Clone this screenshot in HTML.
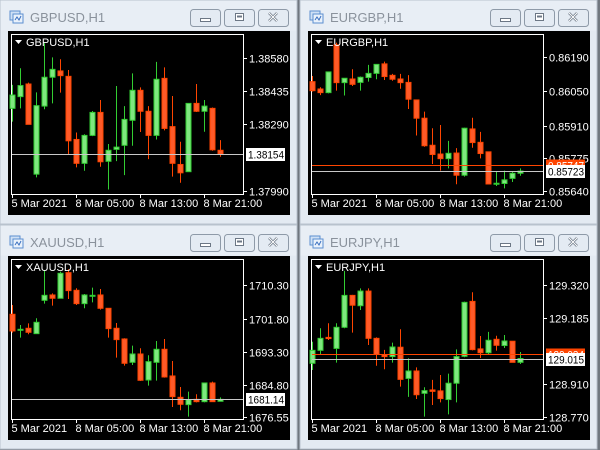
<!DOCTYPE html>
<html><head><meta charset="utf-8"><style>
html,body{margin:0;padding:0;background:#70777f;width:600px;height:450px;overflow:hidden}
svg{display:block;font-family:"Liberation Sans",sans-serif}
</style></head><body>
<svg id="root" width="600" height="450" xmlns="http://www.w3.org/2000/svg"></svg>
<script>
// ---- GBPUSD ----
const gbpOpen=[1.38358,1.38410,1.38466,1.38066,1.38368,1.38496,1.38524,1.38500,1.38220,1.38114,1.38238,1.38340,1.38123,1.38176,1.38194,1.38305,1.38438,1.38345,1.38238,1.38491,1.38277,1.38109,1.38077,1.38380,1.38345,1.38358,1.38172];
const gbpHigh=[1.38462,1.38536,1.38472,1.38429,1.38647,1.38584,1.38576,1.38528,1.38251,1.38243,1.38346,1.38395,1.38200,1.38457,1.38368,1.38513,1.38451,1.38368,1.38564,1.38540,1.38413,1.38210,1.38380,1.38466,1.38395,1.38362,1.38217];
const gbpLow=[1.38299,1.38358,1.38287,1.38052,1.38354,1.38380,1.38428,1.38155,1.38096,1.38081,1.38235,1.38099,1.37998,1.38124,1.38062,1.38192,1.38253,1.38133,1.38220,1.38260,1.38055,1.38028,1.38077,1.38342,1.38254,1.38170,1.38143];
const gbpClose=[1.38417,1.38459,1.38287,1.38370,1.38496,1.38531,1.38503,1.38214,1.38114,1.38238,1.38340,1.38121,1.38172,1.38186,1.38309,1.38438,1.38345,1.38238,1.38487,1.38269,1.38114,1.38072,1.38380,1.38345,1.38368,1.38174,1.38154];
const gbpTicks=[1.38580,1.38435,1.38290,1.37990];
const gbpTickLabels=["1.38580","1.38435","1.38290","1.37990"];
// ---- EURGBP ----
const egOpen=[0.86090,0.86060,0.86045,0.86241,0.86086,0.86101,0.86087,0.86107,0.86124,0.86163,0.86116,0.86101,0.86087,0.86015,0.85940,0.85829,0.85793,0.85774,0.85797,0.85706,0.85896,0.85841,0.85802,0.85670,0.85672,0.85693,0.85714];
const egHigh=[0.86113,0.86067,0.86131,0.86250,0.86104,0.86141,0.86111,0.86159,0.86161,0.86172,0.86122,0.86122,0.86117,0.86015,0.85967,0.85899,0.85912,0.85847,0.85817,0.85901,0.85942,0.85884,0.85803,0.85721,0.85725,0.85719,0.85734];
const egLow=[0.86049,0.86035,0.86042,0.86053,0.86033,0.86072,0.86053,0.86090,0.86100,0.86097,0.86094,0.86061,0.85978,0.85869,0.85823,0.85752,0.85725,0.85734,0.85669,0.85700,0.85819,0.85775,0.85669,0.85662,0.85652,0.85678,0.85704];
const egClose=[0.86053,0.86045,0.86130,0.86086,0.86104,0.86079,0.86108,0.86124,0.86161,0.86111,0.86100,0.86086,0.86018,0.85940,0.85827,0.85791,0.85774,0.85796,0.85706,0.85899,0.85840,0.85795,0.85670,0.85673,0.85687,0.85714,0.85723];
const egTicks=[0.86190,0.86050,0.85910,0.85775,0.85640];
const egTickLabels=["0.86190","0.86050","0.85910","0.85775","0.85640"];
// ---- XAUUSD ----
const xauOpen=[1702.89,1698.79,1699.31,1697.94,1706.46,1707.83,1706.98,1713.54,1709.02,1705.61,1707.57,1707.83,1704.42,1699.31,1696.58,1690.61,1692.74,1686.09,1690.61,1693.94,1687.12,1681.66,1679.79,1681.15,1680.55,1685.33,1680.64];
const xauHigh=[1705.27,1700.16,1700.58,1701.86,1714.22,1708.25,1713.79,1714.39,1709.53,1708.08,1709.70,1709.36,1704.42,1700.67,1696.75,1694.87,1694.19,1692.40,1696.07,1696.58,1690.95,1684.30,1683.11,1682.43,1685.33,1685.67,1681.66];
const xauLow=[1698.20,1696.92,1697.77,1697.94,1705.61,1705.10,1706.98,1706.81,1705.27,1704.42,1705.95,1704.08,1696.92,1691.81,1689.76,1689.93,1685.84,1684.65,1685.92,1686.69,1679.19,1678.34,1676.72,1680.38,1680.38,1680.55,1680.64];
const xauClose=[1698.62,1699.05,1698.28,1700.84,1707.74,1706.98,1713.37,1708.94,1705.61,1707.83,1707.74,1704.42,1699.22,1696.41,1690.36,1692.74,1686.01,1690.78,1693.94,1686.86,1681.83,1679.87,1681.07,1680.55,1685.33,1680.55,1681.14];
const xauTicks=[1710.30,1701.80,1693.30,1684.80,1676.55];
const xauTickLabels=["1710.30","1701.80","1693.30","1684.80","1676.55"];
// ---- EURJPY ----
const ejOpen=[128.995,129.049,129.103,129.057,129.145,129.278,129.235,129.296,129.099,129.030,129.023,129.062,128.932,128.963,128.870,128.884,128.880,128.844,128.912,129.024,129.253,129.055,129.039,129.095,129.069,129.087,128.999];
const ejHigh=[129.085,129.141,129.162,129.162,129.380,129.280,129.307,129.307,129.103,129.051,129.081,129.137,129.016,128.978,128.895,128.926,128.946,128.952,129.053,129.252,129.291,129.109,129.126,129.110,129.113,129.088,129.042];
const ejLow=[128.967,129.032,129.092,128.998,129.141,129.123,129.217,129.071,128.985,128.970,128.998,128.898,128.855,128.846,128.773,128.821,128.832,128.782,128.832,129.020,129.049,129.017,129.032,129.048,129.059,128.999,128.992];
const ejClose=[129.049,129.099,129.098,129.145,129.278,129.237,129.296,129.099,129.032,129.023,129.063,128.928,128.963,128.864,128.881,128.878,128.848,128.912,129.023,129.249,129.052,129.039,129.091,129.070,129.088,128.999,129.015];
const ejTicks=[129.320,129.185,128.910,128.770];
const ejTickLabels=["129.320","129.185","128.910","128.770"];
const timeLabels=["5 Mar 2021","8 Mar 05:00","8 Mar 13:00","8 Mar 21:00"];
const timeIndex=[0,8,16,24];

const NS="http://www.w3.org/2000/svg";
const root=document.getElementById('root');
function mk(tag,attrs,parent){const e=document.createElementNS(NS,tag);for(const k in attrs)e.setAttribute(k,attrs[k]);parent.appendChild(e);return e;}

function panel(ox,oy,name,O,H,L,C,ticks,tickLabels,decimals,ask){
  const g=mk('g',{transform:`translate(${ox},${oy})`},root);
  
  
  const win=mk('rect',{x:0,y:0,width:297,height:224,fill:'#e3eaf2',stroke:'#b8c2cd'},g);
  
  
  mk('rect',{x:0.5,y:0.5,width:296,height:30,fill:'#e8eef5'},g);
  const ic=mk('g',{},g);
  
  
  mk('rect',{x:10,y:11,width:10,height:9,fill:'#cfe0f5',stroke:'#5b8fd0'},ic);
  mk('rect',{x:13,y:14,width:10,height:9,fill:'#eaf2fb',stroke:'#5b8fd0'},ic);
  mk('polyline',{points:'15,20 17,17 19,20 21,16',fill:'none',stroke:'#3a70c0','stroke-width':1},ic);
  const tt=mk('text',{x:30,y:22,fill:'#8a929c','font-size':13},g);
  tt.textContent=name+',H1';
  
  
  const btns=[['minimize-button',190],['maximize-button',224],['close-button',258]];
  btns.forEach((b,i)=>{
    const bg=mk('g',{},g);
    
    
    mk('rect',{x:b[1]+0.5,y:9.5,width:30,height:17,rx:3,fill:'#e4ebf3',stroke:'#8e9aa8'},bg);
    if(i===0)mk('rect',{x:b[1]+10.5,y:18.5,width:10,height:3,fill:'#fff',stroke:'#6c7785'},bg);
    if(i===1){mk('rect',{x:b[1]+11.5,y:13.5,width:8,height:7,fill:'#fff',stroke:'#6c7785'},bg);mk('rect',{x:b[1]+13,y:15.5,width:5,height:2,fill:'#6c7785'},bg);}
    if(i===2){mk('path',{d:`M${b[1]+11},${13} l8,8 M${b[1]+19},${13} l-8,8`,stroke:'#6c7785','stroke-width':2.5},bg);mk('path',{d:`M${b[1]+11},${13} l8,8 M${b[1]+19},${13} l-8,8`,stroke:'#fff','stroke-width':1},bg);}
  });
  const area=mk('rect',{x:8,y:31,width:282,height:184,fill:'#000'},g);
  
  
  const frame=mk('rect',{x:11.5,y:34.5,width:232,height:160,fill:'none',stroke:'#fff'},g);
  
  
  const t0=ticks[0],t1=ticks[ticks.length-1];
  const yT=(oy===0&&name==='EURGBP')?57.3:(oy===0?58.3:60.3);
  const yB=(oy===0)?191.3:192.3;
  const yS=p=>yB+(p-t1)/(t0-t1)*(yT-yB);
  const xS=i=>12.5+8*i;
  ticks.forEach((t,i)=>{
    const y=Math.round(yS(t))+0.5;
    mk('line',{x1:243,x2:247,y1:y,y2:y,stroke:'#fff'},g);
    const lt=mk('text',{x:249,y:y+4,fill:'#fff','font-size':11},g);
    lt.textContent=tickLabels[i];
    
    
  });
  timeIndex.forEach((ti,i)=>{
    const x=Math.round(xS(ti))-0.5;
    mk('line',{x1:x,x2:x,y1:194,y2:198,stroke:'#fff'},g);
    const lt=mk('text',{x:x-1,y:207,fill:'#fff','font-size':11},g);
    lt.textContent=timeLabels[i];
    
    
  });
  const cg=mk('g',{},g);
  
  
  for(let i=0;i<O.length;i++){
    const up=C[i]>=O[i];
    const x=xS(i);
    const col=up?'#32cd32':'#ff4500';
    const fillc=up?'#7fe77f':'#ff5a28';
    const w=mk('line',{x1:x,x2:x,y1:yS(H[i]),y2:yS(L[i]),stroke:col,'stroke-width':1},cg);
    
    
    const top=yS(Math.max(O[i],C[i])),bot=yS(Math.min(O[i],C[i]));
    const b=mk('rect',{x:x-2.5,y:top,width:5,height:Math.max(bot-top,1),fill:fillc,stroke:col,'stroke-width':1},cg);
    
    
  }
  if(ask!==null){
    const ya=Math.round(yS(ask))+0.5;
    const al=mk('line',{x1:12,x2:243,y1:ya,y2:ya,stroke:'#ff4500'},g);
    
    
    mk('rect',{x:246,y:ya-6,width:39,height:12,fill:'#ff4500'},g);
    const at=mk('text',{x:248,y:ya+4,fill:'#fff','font-size':11,textLength:36,lengthAdjust:'spacingAndGlyphs'},g);
    at.textContent=ask.toFixed(decimals);
    
    
  }
  const last=C[C.length-1];
  const yb=Math.round(yS(last))+0.5;
  const bl=mk('line',{x1:12,x2:243,y1:yb,y2:yb,stroke:'#c8c8c8'},g);
  
  
  mk('rect',{x:246,y:yb-6.5,width:39,height:13,fill:'#fff'},g);
  const bt=mk('text',{x:248,y:yb+4,fill:'#000','font-size':11,textLength:36,lengthAdjust:'spacingAndGlyphs'},g);
  bt.textContent=last.toFixed(decimals);
  
  
  mk('path',{d:'M15,40 L22,40 L18.5,44 Z',fill:'#fff'},g);
  const lg=mk('text',{x:26,y:46,fill:'#fff','font-size':11},g);
  lg.textContent=name+',H1';
  
  
}
panel(0,0,'GBPUSD',gbpOpen,gbpHigh,gbpLow,gbpClose,gbpTicks,gbpTickLabels,5,null);
panel(300,0,'EURGBP',egOpen,egHigh,egLow,egClose,egTicks,egTickLabels,5,0.85747);
panel(0,225,'XAUUSD',xauOpen,xauHigh,xauLow,xauClose,xauTicks,xauTickLabels,2,null);
panel(300,225,'EURJPY',ejOpen,ejHigh,ejLow,ejClose,ejTicks,ejTickLabels,3,129.034);
</script>
</body></html>
